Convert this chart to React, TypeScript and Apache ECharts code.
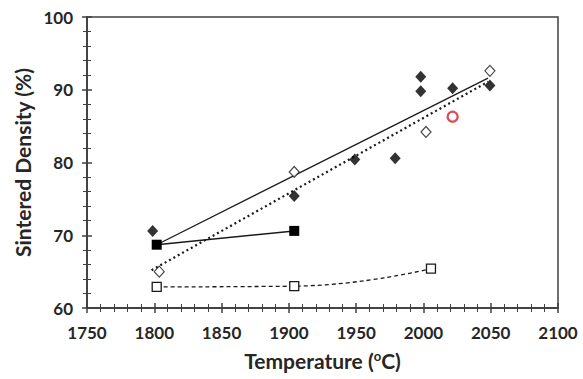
import React, { useEffect, useRef } from "react";
import * as echarts from "echarts";

const xTicks = [1750, 1800, 1850, 1900, 1950, 2000, 2050, 2100];
const yTicks = [60, 70, 80, 90, 100];

const filledDiamonds: [number, number][] = [
  [1798.8, 70.6], [1904, 75.4], [1949, 80.4], [1979, 80.6],
  [1998, 91.8], [1998, 89.8], [2021.7, 90.2], [2049.4, 90.6],
];
const openDiamonds: [number, number][] = [
  [1803.7, 65.0], [1904, 78.7], [2001.9, 84.2], [2049.4, 92.6],
];
const redCircle: [number, number][] = [[2021.7, 86.3]];
const filledSquares: [number, number][] = [[1801.8, 68.7], [1904, 70.6]];
const openSquares: [number, number][] = [[1801.8, 62.9], [1904, 63.0], [2005.6, 65.4]];
const solidTrend: [number, number][] = [[1801.8, 68.7], [2048, 91.6]];
const dottedTrend: [number, number][] = [[1798, 65.2], [2048, 91.1]];

const xTitle = "Temperature ({s|o}C)";
const yTitle = "Sintered Density (%)";

const FONT = "Lato";
const TXT = "#262626";
const AX = "#404040";

export default function App() {
  const ref = useRef<HTMLDivElement>(null);
  useEffect(() => {
    if (!ref.current) return;
    const chart = echarts.init(ref.current, undefined, { renderer: "svg" });
    const baseX = {
      type: "value",
      min: xTicks[0],
      max: xTicks[xTicks.length - 1],
      interval: 50,
      position: "bottom",
      splitLine: { show: false },
      axisLine: { show: true, onZero: false, lineStyle: { color: AX, width: 1.5 } },
      minorTick: { show: true, splitNumber: 5, length: 4, lineStyle: { color: AX, width: 1 } },
    };
    const baseY = {
      type: "value",
      min: yTicks[0],
      max: yTicks[yTicks.length - 1],
      interval: 10,
      position: "left",
      splitLine: { show: false },
      axisLine: { show: true, onZero: false, lineStyle: { color: AX, width: 1.5 } },
      minorTick: { show: true, splitNumber: 5, length: 4, lineStyle: { color: AX, width: 1 } },
    };
    chart.setOption({
      animation: false,
      grid: {
        left: 87, right: 25, top: 17, bottom: 71,
        show: true, borderColor: AX, borderWidth: 1.5,
      },
      xAxis: [
        {
          ...baseX,
          axisTick: { show: true, inside: false, length: 5, lineStyle: { color: AX, width: 1.5 } },
          axisLabel: {
            color: TXT, fontFamily: FONT, fontWeight: "bold", fontSize: 17, margin: 16,
            formatter: (v: number) => String(v),
          },
          name: xTitle,
          nameLocation: "middle",
          nameGap: 41,
          nameTextStyle: {
            color: TXT, fontFamily: FONT, fontWeight: "bold", fontSize: 21,
            rich: { s: { fontFamily: FONT, fontWeight: "bold", fontSize: 13, verticalAlign: "top", color: TXT, padding: [0, 0, 9, 0] } },
          },
        },
        {
          ...baseX,
          axisTick: { show: true, inside: true, length: 5, lineStyle: { color: AX, width: 1.5 } },
          axisLabel: { show: false },
        },
      ],
      yAxis: [
        {
          ...baseY,
          axisTick: { show: true, inside: false, length: 5, lineStyle: { color: AX, width: 1.5 } },
          axisLabel: {
            color: TXT, fontFamily: FONT, fontWeight: "bold", fontSize: 17, margin: 14,
            formatter: (v: number) => String(v),
          },
          name: yTitle,
          nameLocation: "middle",
          nameGap: 51,
          nameRotate: 90,
          nameTextStyle: { color: TXT, fontFamily: FONT, fontWeight: "bold", fontSize: 21 },
        },
        {
          ...baseY,
          axisTick: { show: true, inside: true, length: 5, lineStyle: { color: AX, width: 1.5 } },
          axisLabel: { show: false },
        },
      ],
      series: [
        {
          type: "line", data: solidTrend, showSymbol: false, symbol: "none",
          lineStyle: { color: "#1a1a1a", width: 1.3, type: "solid" }, z: 2,
        },
        {
          type: "line", data: dottedTrend, showSymbol: false, symbol: "none",
          lineStyle: { color: "#1a1a1a", width: 2.2, type: [2, 3] }, z: 2,
        },
        {
          type: "line", data: filledSquares, symbol: "rect", symbolSize: 10,
          itemStyle: { color: "#000" },
          lineStyle: { color: "#1a1a1a", width: 1.5 }, z: 3,
        },
        {
          type: "line", data: openSquares, symbol: "rect", symbolSize: 9, smooth: true,
          itemStyle: { color: "#fff", borderColor: "#1a1a1a", borderWidth: 1.3 },
          lineStyle: { color: "#1a1a1a", width: 1.3, type: [4, 3] }, z: 3,
        },
        {
          type: "scatter", data: filledDiamonds, symbol: "diamond", symbolSize: [11, 12],
          itemStyle: { color: "#000" }, z: 4,
        },
        {
          type: "scatter", data: openDiamonds, symbol: "diamond", symbolSize: [10, 11],
          itemStyle: { color: "#fff", borderColor: "#1a1a1a", borderWidth: 1.2 }, z: 4,
        },
        {
          type: "scatter", data: redCircle, symbol: "circle", symbolSize: 10,
          itemStyle: { color: "#fff", borderColor: "#d4202c", borderWidth: 2.2 }, z: 4,
        },
      ],
    });
    return () => chart.dispose();
  }, []);
  return <div ref={ref} style={{ width: 583, height: 379, position: "absolute", left: 0, top: 0 }} />;
}
